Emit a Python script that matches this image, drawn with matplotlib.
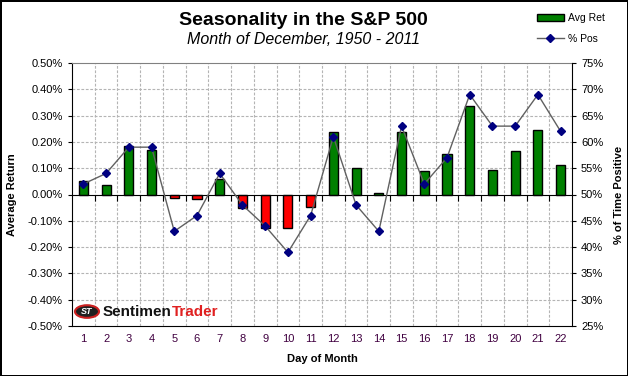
import matplotlib.pyplot as plt
import matplotlib.ticker as mticker
from matplotlib.patches import Circle

plt.rcParams['font.family'] = ['Liberation Sans', 'DejaVu Sans']

days = list(range(1, 23))
avg_ret = [0.050, 0.035, 0.185, 0.170, -0.015, -0.019, 0.059, -0.051, -0.128, -0.127, -0.046,
           0.238, 0.100, 0.004, 0.238, 0.088, 0.154, 0.338, 0.092, 0.165, 0.246, 0.112]
pct_pos = [52, 54, 59, 59, 43, 46, 54, 48, 44, 39, 46,
           61, 48, 43, 63, 52, 57, 69, 63, 63, 69, 62]

GREEN = '#008000'
RED = '#ff0000'
NAVY = '#000080'


def main() -> None:
    fig = plt.figure(figsize=(6.28, 3.76), dpi=100)
    fig.patch.set_edgecolor('black')
    fig.patch.set_linewidth(2)
    ax = fig.add_axes([72 / 628, 1 - 326 / 376, 500 / 628, 263 / 376])

    colors = [GREEN if v >= 0 else RED for v in avg_ret]
    bars = ax.bar(days, avg_ret, width=0.4, color=colors, edgecolor='black', linewidth=1, zorder=3,
                  label='Avg Ret')

    ax.set_xlim(0.5, 22.5)
    ax.set_ylim(-0.5, 0.5)
    ax.set_yticks([i / 10 for i in range(-5, 6)])
    ax.yaxis.set_major_formatter(mticker.FuncFormatter(lambda v, p: f'{v:.2f}%'))
    ax.tick_params(axis='y', labelsize=8, length=3, direction='out')

    # x axis crossing at zero, ticks at category boundaries
    ax.spines['bottom'].set_position(('data', 0))
    ax.spines['bottom'].set_zorder(4)
    ax.set_xticks([d + 0.5 for d in days[:-1]])
    ax.tick_params(axis='x', length=4, direction='out', labelbottom=False)
    ax.spines['top'].set_color('#808080')
    ax.spines['right'].set_visible(False)

    sec = ax.secondary_xaxis('bottom')
    sec.set_xticks(days)
    sec.set_xticklabels([str(d) for d in days])
    sec.tick_params(length=0, labelsize=8, labelcolor='#400040', pad=6)
    sec.spines['bottom'].set_color('black')
    sec.set_xlabel('Day of Month', fontsize=8, fontweight='bold', labelpad=7)

    # grid
    grid_kw = dict(color='#b4b4b4', linestyle=(0, (2.5, 1.5)), linewidth=0.8, zorder=1)
    for y in [i / 10 for i in range(-4, 5)]:
        if y != 0:
            ax.axhline(y, **grid_kw)
    for d in days[:-1]:
        ax.axvline(d + 0.5, **grid_kw)

    ax.set_ylabel('Average Return', fontsize=8, fontweight='bold', labelpad=8)

    ax2 = ax.twinx()
    ax2.set_ylim(25, 75)
    ax2.set_yticks(range(25, 80, 5))
    ax2.yaxis.set_major_formatter(mticker.FuncFormatter(lambda v, p: f'{v:.0f}%'))
    ax2.tick_params(axis='y', labelsize=8, length=3)
    ax2.spines['top'].set_visible(False)
    ax2.spines['left'].set_visible(False)
    ax2.spines['bottom'].set_visible(False)
    line, = ax2.plot(days, pct_pos, color='#606060', linewidth=1, marker='D', markersize=4,
                     markerfacecolor=NAVY, markeredgecolor=NAVY, zorder=5, label='% Pos')
    ax2.set_ylabel('% of Time Positive', fontsize=8, fontweight='bold', labelpad=8)

    # titles
    fig.text(0.483, 0.945, 'Seasonality in the S&P 500', ha='center', va='center',
             fontsize=14, fontweight='bold')
    fig.text(0.483, 0.895, 'Month of December, 1950 - 2011', ha='center', va='center',
             fontsize=11.5, style='italic')

    # legend
    fig.legend([bars, line], ['Avg Ret', '% Pos'], loc='upper left',
               bbox_to_anchor=(0.84, 0.99), frameon=False, fontsize=7.5,
               handlelength=2.6, handleheight=0.6, labelspacing=1.0, handletextpad=0.4)

    # logo
    ax.add_patch(Circle((0.03, 0.055), 0.024, transform=ax.transAxes, facecolor='#202020',
                        edgecolor='#cc2020', linewidth=1.5, zorder=6))
    ax.text(0.03, 0.055, 'ST', transform=ax.transAxes, ha='center', va='center', fontsize=6.5,
            fontweight='bold', style='italic', color='white', zorder=7)
    t1 = ax.text(0.062, 0.055, 'Sentimen', transform=ax.transAxes, ha='left', va='center',
                 fontsize=11, fontweight='bold', color='#111111', zorder=7)
    ax.annotate('Trader', xy=(1, 0.5), xycoords=t1, ha='left', va='center',
                fontsize=11, fontweight='bold', color='#e02020', zorder=7)

    plt.savefig('out.png', dpi=100)


if __name__ == '__main__':
    main()
